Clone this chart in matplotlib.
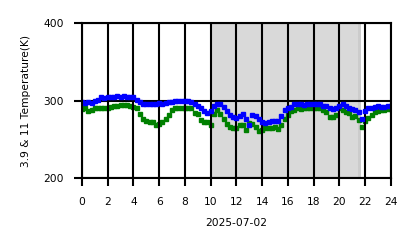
import numpy as np
import matplotlib
matplotlib.use("Agg")
import matplotlib.pyplot as plt

hours = np.arange(0, 24.01, 0.25)

blue_39 = [298, 297, 298, 297, 299, 301, 304, 303, 304, 305, 305, 306, 305, 306, 305, 304,
           304, 301, 298, 296, 296, 295, 296, 296, 297, 296, 297, 298, 298, 299, 300, 299,
           300, 299, 298, 296, 293, 290, 286, 284, 287, 293, 296, 296, 292, 287, 281, 279,
           277, 280, 283, 276, 268, 281, 280, 276, 272, 271, 272, 273, 273, 274, 280, 288,
           290, 292, 295, 296, 295, 294, 296, 295, 295, 296, 295, 293, 293, 291, 289, 290,
           293, 295, 293, 290, 289, 288, 285, 276, 287, 290, 291, 292, 293, 292, 292, 293, 293]

green_11 = [289, 290, 286, 288, 291, 290, 291, 290, 291, 292, 293, 293, 294, 294, 294, 293,
            292, 290, 283, 276, 274, 272, 272, 268, 270, 272, 276, 281, 288, 290, 291, 290,
            291, 290, 290, 284, 283, 275, 272, 272, 268, 283, 288, 283, 276, 270, 266, 265,
            265, 268, 269, 262, 271, 270, 266, 261, 262, 264, 265, 264, 266, 263, 268, 276,
            282, 286, 288, 290, 289, 290, 291, 291, 290, 290, 291, 288, 285, 279, 279, 282,
            290, 288, 285, 284, 279, 280, 275, 266, 274, 278, 282, 285, 287, 288, 288, 289, 289]

night_start, night_end = 10.0, 21.45
edge_end = 21.72

xticks = list(range(0, 25, 2))
yticks = [200, 300, 400]
date_label = "2025-07-02"
ylabel = "3.9 & 11 Temperature(K)"

fig = plt.figure(figsize=(4.18, 2.48), dpi=100)
ax = fig.add_axes([0.196, 0.282, 0.739, 0.625])

ax.axvspan(night_start, night_end, color="#d9d9d9", zorder=0, lw=0)
ax.axvspan(night_end, edge_end, color="#cccccc", zorder=0, lw=0)

ax.plot(hours, green_11, "s", color="#008000", markersize=2.5, zorder=2, lw=0)
ax.plot(hours, blue_39, "s", color="#0000ff", markersize=2.5, zorder=3, lw=0)

ax.set_xlim(0, 24)
ax.set_ylim(200, 400)
ax.set_xticks(xticks)
ax.set_yticks(yticks)
ax.grid(True, color="black", lw=1.5, zorder=4)
ax.set_axisbelow(False)
for s in ax.spines.values():
    s.set_linewidth(1.5)
    s.set_zorder(5)
ax.tick_params(direction="out", length=6, width=1.5, labelsize=7.7)
ax.tick_params(axis="x", pad=7.5)
ax.tick_params(axis="y", pad=7)
ax.set_xlabel(date_label, fontsize=7.7, labelpad=8)
ax.set_ylabel(ylabel, fontsize=7.7, labelpad=9)

fig.savefig("out.png", dpi=100)
